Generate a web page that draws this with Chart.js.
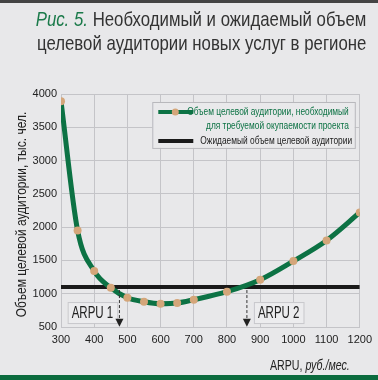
<!DOCTYPE html>
<html>
<head>
<meta charset="utf-8">
<script src="https://cdn.jsdelivr.net/npm/chart.js@4"></script>
<style>
  html, body { margin: 0; padding: 0; background: #e8e8ea; }
  #wrap { position: relative; width: 378px; height: 380px; overflow: hidden; }
  #title {
    position: absolute; right: 12px; top: 7px; text-align: right; white-space: nowrap;
    font-family: "Liberation Sans", sans-serif;
    font-size: 21px; line-height: 24px; color: #333;
    transform: scaleX(0.8); transform-origin: right top;
  }
  #title i { color: #1b7a4a; }
  #topline { position: absolute; left: 0; top: 0; width: 378px; height: 3px; background: #444; }
  #bottomline { position: absolute; left: 0; top: 375px; width: 378px; height: 5px; background: #0b6b3e; }
</style>
</head>
<body>
<div id="wrap">
  <canvas id="myChart" width="378" height="380"></canvas>
  <div id="topline"></div>
  <div id="title"><i>Рис. 5.</i> Необходимый и ожидаемый объем<br>целевой аудитории новых услуг в регионе</div>
  <div id="bottomline"></div>
</div>
<script>
const arpu = [300, 350, 400, 450, 500, 550, 600, 650, 700, 800, 900, 1000, 1100, 1200];
const required = [3890, 1950, 1340, 1090, 940, 880, 850, 860, 910, 1030, 1210, 1490, 1800, 2220];
const expected = 1100;
const arpuMarks = [476, 860];
const arpuLabels = ['ARPU 1', 'ARPU 2'];
const legendLabels = ['Объем целевой аудитории, необходимый', 'для требуемой окупаемости проекта', 'Ожидаемый объем целевой аудитории'];

const FONT = '"Liberation Sans", sans-serif';
const GREEN = '#0c7244';
const DOT = '#d4a67a';
const NARROW = 0.8;

// draw horizontally squeezed text (the original uses a condensed face)
function narrowText(ctx, text, x, y, align, k) {
  ctx.save();
  ctx.translate(x, y);
  ctx.scale(k || NARROW, 1);
  ctx.textAlign = align;
  ctx.fillText(text, 0, 0);
  ctx.restore();
}

var extras = {
  id: 'extras',
  afterDatasetsDraw(chart) {
    const ctx = chart.ctx;
    const xs = chart.scales.x, ys = chart.scales.y;
    ctx.save();

    // ARPU boxes, then dashed arrows
    ctx.font = '16px ' + FONT;
    ctx.textBaseline = 'middle';
    for (var i = 0; i < arpuMarks.length; i++) {
      var px = xs.getPixelForValue(arpuMarks[i]);
      var tw = ctx.measureText(arpuLabels[i]).width * 0.72;
      var bx = i == 0 ? xs.getPixelForValue(320) : px + 7;
      var by = ys.getPixelForValue(875);
      ctx.fillStyle = '#ececee';
      ctx.strokeStyle = '#c8c8cc';
      ctx.lineWidth = 1;
      ctx.fillRect(bx, by, tw + 8, 21);
      ctx.strokeRect(bx + 0.5, by + 0.5, tw + 8, 21);
      ctx.fillStyle = '#222';
      narrowText(ctx, arpuLabels[i], bx + 4, by + 11.5, 'left', 0.72);

      var y0 = ys.getPixelForValue(expected) + 3;
      var y1 = ys.getPixelForValue(520);
      ctx.strokeStyle = '#333';
      ctx.setLineDash([3, 2]);
      ctx.beginPath();
      ctx.moveTo(px, y0);
      ctx.lineTo(px, y1 - 6);
      ctx.stroke();
      ctx.setLineDash([]);
      ctx.fillStyle = '#222';
      ctx.beginPath();
      ctx.moveTo(px - 4, y1 - 7);
      ctx.lineTo(px + 4, y1 - 7);
      ctx.lineTo(px, y1 + 1);
      ctx.closePath();
      ctx.fill();
    }

    // legend box
    var lx = xs.getPixelForValue(575), rx = xs.getPixelForValue(1185);
    var ty = ys.getPixelForValue(3880), byy = ys.getPixelForValue(3190);
    ctx.fillStyle = '#e9e9eb';
    ctx.strokeStyle = '#b8b8bc';
    ctx.lineWidth = 1;
    ctx.fillRect(lx, ty, rx - lx, byy - ty);
    ctx.strokeRect(lx + 0.5, ty + 0.5, rx - lx, byy - ty);

    ctx.lineWidth = 4;
    ctx.strokeStyle = GREEN;
    ctx.beginPath();
    ctx.moveTo(lx + 6, ty + 10);
    ctx.lineTo(lx + 41, ty + 10);
    ctx.stroke();
    ctx.fillStyle = DOT;
    ctx.beginPath();
    ctx.arc(lx + 23, ty + 10, 3.5, 0, Math.PI * 2);
    ctx.fill();
    ctx.strokeStyle = '#1a1a1a';
    ctx.beginPath();
    ctx.moveTo(lx + 6, ty + 39);
    ctx.lineTo(lx + 41, ty + 39);
    ctx.stroke();

    ctx.font = '11px ' + FONT;
    ctx.textBaseline = 'middle';
    ctx.fillStyle = GREEN;
    narrowText(ctx, legendLabels[0], rx - 6, ty + 10, 'right', 0.76);
    narrowText(ctx, legendLabels[1], rx - 6, ty + 24, 'right', 0.76);
    ctx.fillStyle = '#222';
    narrowText(ctx, legendLabels[2], lx + 48, ty + 39, 'left', 0.76);

    ctx.restore();
  },
  afterDraw(chart) {
    const ctx = chart.ctx;
    const area = chart.chartArea;
    ctx.save();
    // y title
    ctx.font = '15px ' + FONT;
    ctx.fillStyle = '#222';
    ctx.textBaseline = 'middle';
    ctx.translate(22, (area.top + area.bottom) / 2 + 4);
    ctx.rotate(-Math.PI / 2);
    narrowText(ctx, 'Объем целевой аудитории, тыс. чел.', 0, 0, 'center');
    ctx.restore();

    // x title with italic units
    ctx.save();
    ctx.textBaseline = 'alphabetic';
    ctx.fillStyle = '#222';
    ctx.font = 'italic 14px ' + FONT;
    var w2 = ctx.measureText('руб./мес.').width * 0.76;
    ctx.font = '14px ' + FONT;
    var w1 = ctx.measureText('ARPU, ').width * 0.76;
    var xr = area.right - 10;
    narrowText(ctx, 'ARPU, ', xr - w2 - w1, 370, 'left', 0.76);
    ctx.font = 'italic 14px ' + FONT;
    narrowText(ctx, 'руб./мес.', xr - w2, 370, 'left', 0.76);
    ctx.restore();
  }
};

var data = {
  datasets: [
    {
      label: legendLabels[0],
      data: arpu.map((v, i) => ({ x: v, y: required[i] })),
      borderColor: GREEN,
      borderWidth: 5,
      pointRadius: 4,
      pointBackgroundColor: DOT,
      pointBorderWidth: 0,
      cubicInterpolationMode: 'monotone'
    },
    {
      label: legendLabels[2],
      data: [{ x: arpu[0], y: expected }, { x: arpu[arpu.length - 1], y: expected }],
      borderColor: '#1a1a1a',
      borderWidth: 4,
      pointRadius: 0
    }
  ]
};

var config = {
  type: 'line',
  data: data,
  options: {
    responsive: false,
    animation: false,
    layout: { padding: { top: 94, right: 15, left: 0, bottom: 0 } },
    plugins: { legend: { display: false }, tooltip: { enabled: false } },
    scales: {
      x: {
        type: 'linear',
        min: 300, max: 1200,
        ticks: {
          stepSize: 100, maxRotation: 0, color: '#222', font: { family: FONT, size: 11 }, padding: 6,
          callback: (v) => String(v)
        },
        grid: { color: '#c4c4c8', drawTicks: false },
        border: { color: '#c4c4c8' },
        afterFit: function (scale) { scale.height = 53; }
      },
      y: {
        min: 500, max: 4000,
        ticks: {
          stepSize: 500, color: '#222', font: { family: FONT, size: 11 }, padding: 4,
          callback: (v) => String(v)
        },
        grid: { color: '#c4c4c8', drawTicks: false },
        border: { color: '#c4c4c8' },
        afterFit: function (scale) { scale.width = 61; }
      }
    }
  },
  plugins: [extras]
};

const myChart = new Chart(document.getElementById('myChart'), config);
</script>
</body>
</html>
